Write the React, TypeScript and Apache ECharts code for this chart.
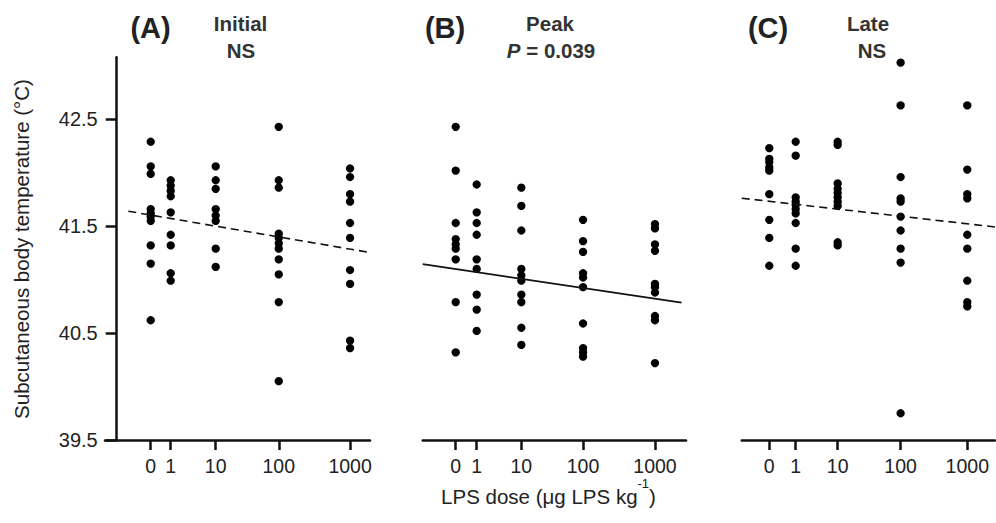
import React, { useEffect, useRef } from "react";
import * as echarts from "echarts";

// Dose categories and their positions along each panel's x axis
const doseLabels = ["0", "1", "10", "100", "1000"];
const dosePosInitial = [0, 0.301, 0.978, 1.927, 3];
const dosePosPeak = [0, 0.316, 0.988, 1.917, 3];
const dosePosLate = [0, 0.4, 1.036, 1.99, 3];

// Subcutaneous body temperature (°C) per dose group
const initialTemps: number[][] = [
  [42.29, 42.06, 41.99, 41.66, 41.62, 41.59, 41.55, 41.32, 41.15, 40.62],
  [41.93, 41.88, 41.83, 41.78, 41.63, 41.42, 41.32, 41.06, 40.99],
  [42.06, 41.93, 41.85, 41.66, 41.6, 41.55, 41.29, 41.12],
  [42.43, 41.93, 41.86, 41.43, 41.39, 41.34, 41.29, 41.19, 41.05, 40.79, 40.05],
  [42.04, 41.96, 41.8, 41.73, 41.53, 41.39, 41.09, 40.96, 40.43, 40.36],
];
const peakTemps: number[][] = [
  [42.43, 42.02, 41.53, 41.38, 41.33, 41.29, 41.19, 40.79, 40.32],
  [41.89, 41.63, 41.53, 41.42, 41.19, 41.1, 40.86, 40.72, 40.52],
  [41.86, 41.69, 41.46, 41.1, 41.04, 40.99, 40.86, 40.79, 40.55, 40.39],
  [41.56, 41.36, 41.26, 41.06, 41.02, 40.93, 40.59, 40.36, 40.32, 40.28],
  [41.52, 41.48, 41.33, 41.27, 40.96, 40.93, 40.88, 40.66, 40.62, 40.22],
];
const lateTemps: number[][] = [
  [42.23, 42.13, 42.1, 42.05, 42.02, 41.8, 41.56, 41.39, 41.13],
  [42.29, 42.16, 41.77, 41.73, 41.7, 41.66, 41.62, 41.53, 41.29, 41.13],
  [42.29, 42.26, 41.9, 41.85, 41.81, 41.77, 41.73, 41.69, 41.35, 41.32],
  [43.03, 42.63, 41.96, 41.76, 41.73, 41.59, 41.46, 41.29, 41.16, 39.75],
  [42.63, 42.03, 41.8, 41.76, 41.42, 41.29, 40.99, 40.79, 40.75],
];

// Regression line end points [x position, temperature]
const trendInitial = [[-0.337, 41.64], [3.3, 41.254]];
const trendPeak = [[-0.497, 41.145], [3.4, 40.785]];
const trendLate = [[-0.418, 41.762], [3.42, 41.493]];

const yTicks = [39.5, 40.5, 41.5, 42.5];
const panelLetters = ["(A)", "(B)", "(C)"];
const panelPhases = ["Initial", "Peak", "Late"];
const panelStats = ["NS", "P = 0.039", "NS"];

const FONT = "'Liberation Sans', Arial, Helvetica, sans-serif";
const INK = "#111";
const TXT = "#222";

function toPoints(temps: number[][], pos: number[]) {
  return temps.flatMap((g, i) => g.map((v) => [pos[i], v]));
}

export default function App() {
  const ref = useRef<HTMLDivElement>(null);
  useEffect(() => {
    if (!ref.current) return;
    const chart = echarts.init(ref.current, undefined, { renderer: "svg" });

    const panels = [
      { pos: dosePosInitial, temps: initialTemps, trend: trendInitial, left: 105, width: 265, min: -0.688, max: 3.3, dashed: true },
      { pos: dosePosPeak, temps: peakTemps, trend: trendPeak, left: 422.7, width: 263.3, min: -0.497, max: 3.467, dashed: false },
      { pos: dosePosLate, temps: lateTemps, trend: trendLate, left: 741.7, width: 253.3, min: -0.418, max: 3.42, dashed: true },
    ];

    const titleX = [
      { letter: 150.5, phase: 240.5, stat: 241 },
      { letter: 445, phase: 550, stat: 551 },
      { letter: 768, phase: 868, stat: 872 },
    ];

    const graphics: any[] = [];
    titleX.forEach((t, i) => {
      graphics.push({
        type: "text",
        x: t.letter,
        y: 28,
        style: { text: panelLetters[i], font: `bold 29px ${FONT}`, fill: TXT, align: "center", verticalAlign: "middle" },
      });
      graphics.push({
        type: "text",
        x: t.phase,
        y: 23,
        style: { text: panelPhases[i], font: `bold 20.5px ${FONT}`, fill: "#333", align: "center", verticalAlign: "middle" },
      });
      if (i === 1) {
        graphics.push({
          type: "text",
          x: t.stat,
          y: 50,
          style: {
            text: "{i|P}{b| = 0.039}",
            align: "center",
            verticalAlign: "middle",
            rich: {
              i: { fontFamily: FONT, fontSize: 20.5, fontWeight: "bold", fontStyle: "italic", fill: "#333" },
              b: { fontFamily: FONT, fontSize: 20.5, fontWeight: "bold", fill: "#333" },
            },
          },
        });
      } else {
        graphics.push({
          type: "text",
          x: t.stat,
          y: 50,
          style: { text: panelStats[i], font: `bold 20.5px ${FONT}`, fill: "#333", align: "center", verticalAlign: "middle" },
        });
      }
    });
    graphics.push({
      type: "text",
      x: 21,
      y: 249,
      rotation: Math.PI / 2,
      style: { text: "Subcutaneous body temperature (°C)", font: `20.5px ${FONT}`, fill: TXT, align: "center", verticalAlign: "middle" },
    });
    graphics.push({
      type: "text",
      x: 548.5,
      y: 496,
      style: {
        text: "{m|LPS dose (μg LPS kg}{s|-1}{m|)}",
        align: "center",
        verticalAlign: "middle",
        rich: {
          m: { fontFamily: FONT, fontSize: 20.5, fill: TXT, lineHeight: 38, verticalAlign: "middle" },
          s: { fontFamily: FONT, fontSize: 13, fill: TXT, lineHeight: 15, verticalAlign: "top" },
        },
      },
    });

    const option: any = {
      animation: false,
      backgroundColor: "#fff",
      grid: panels.map((p) => ({ left: p.left, top: 57.3, width: p.width, height: 382.7 })),
      xAxis: panels.map((p, i) => ({
        type: "value",
        gridIndex: i,
        min: p.min,
        max: p.max,
        axisLine: { show: true, onZero: false, lineStyle: { color: INK, width: 2.5 } },
        axisTick: { show: true, length: 10, customValues: p.pos, lineStyle: { color: INK, width: 2.5 } },
        axisLabel: {
          customValues: p.pos,
          formatter: (v: number) => {
            const k = p.pos.findIndex((q) => Math.abs(q - v) < 1e-6);
            return k >= 0 ? doseLabels[k] : "";
          },
          margin: 17.5,
          lineHeight: 16,
          fontSize: 19.5,
          fontFamily: FONT,
          color: TXT,
        },
        splitLine: { show: false },
      })),
      yAxis: panels.map((p, i) => ({
        type: "value",
        gridIndex: i,
        min: 39.5,
        max: 43.08,
        show: i === 0,
        offset: -11.7,
        axisLine: { show: true, onZero: false, lineStyle: { color: INK, width: 2.5 } },
        axisTick: { show: true, length: 11, customValues: yTicks, lineStyle: { color: INK, width: 2.5 } },
        axisLabel: {
          customValues: yTicks,
          formatter: (v: number) => v.toFixed(1),
          margin: 19,
          fontSize: 20,
          fontFamily: FONT,
          color: TXT,
        },
        splitLine: { show: false },
      })),
      series: panels.flatMap((p, i) => [
        {
          type: "scatter",
          xAxisIndex: i,
          yAxisIndex: i,
          data: toPoints(p.temps, p.pos),
          symbol: "circle",
          symbolSize: 8.3,
          itemStyle: { color: "#000", opacity: 1 },
          silent: true,
        },
        {
          type: "line",
          xAxisIndex: i,
          yAxisIndex: i,
          data: p.trend,
          showSymbol: false,
          symbol: "none",
          lineStyle: { color: INK, width: 1.6, type: p.dashed ? [8, 5] : "solid" },
          silent: true,
        },
      ]),
      graphic: graphics,
    };
    chart.setOption(option);
    return () => chart.dispose();
  }, []);
  return <div ref={ref} style={{ position: "absolute", left: 0, top: 0, width: 996, height: 523 }} />;
}
